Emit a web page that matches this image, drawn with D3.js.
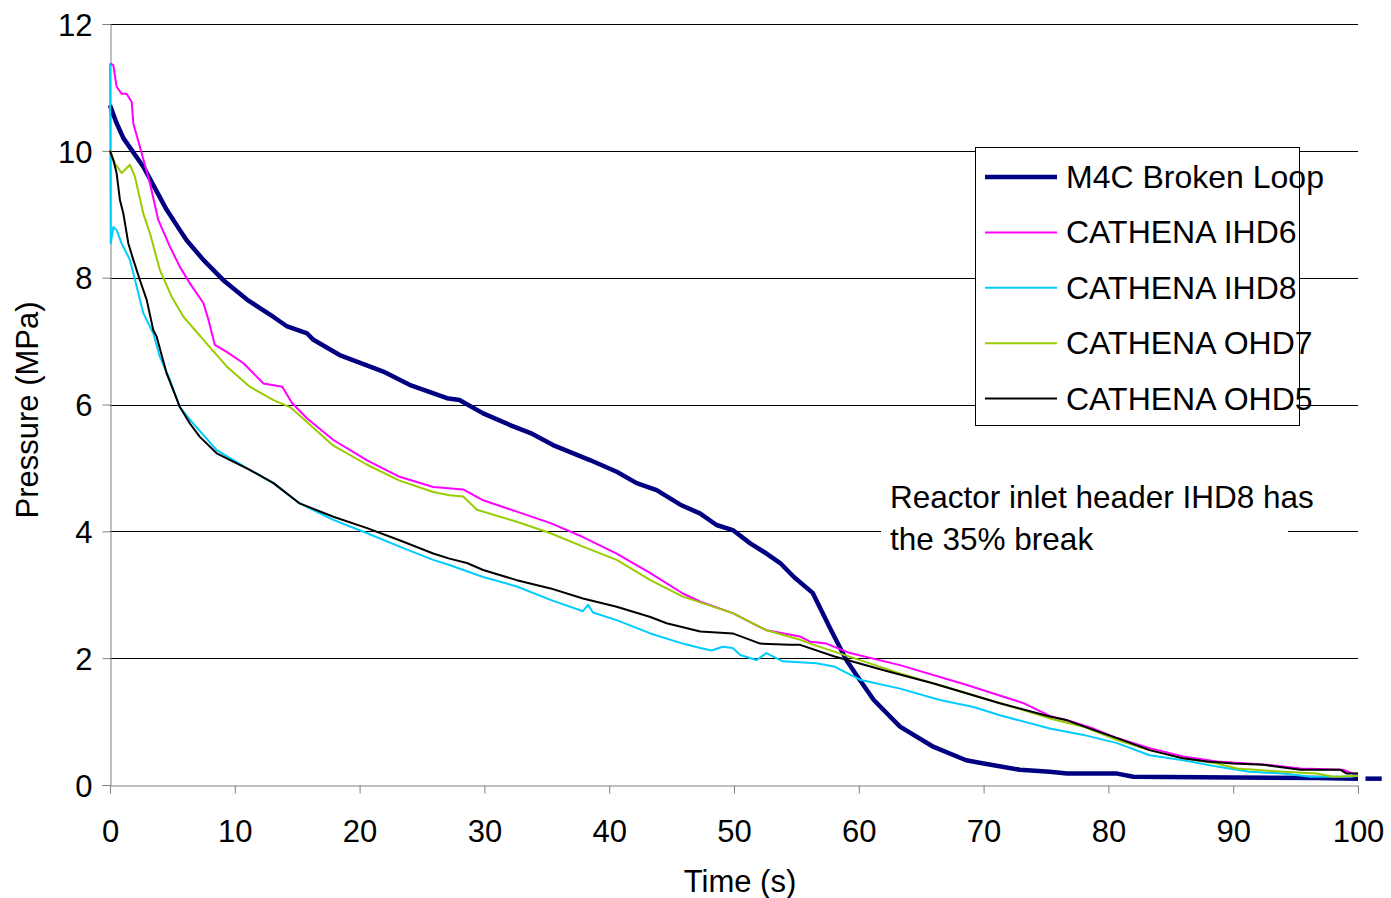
<!DOCTYPE html>
<html>
<head>
<meta charset="utf-8">
<script src="https://cdn.jsdelivr.net/npm/d3@7"></script>
<style>
    body { margin: 0; background: #fff; }
    text { font-family: "Liberation Sans", Arial, sans-serif; }
</style>
</head>
<body>
<div id="chart"></div>
<script>
// Pressure traces, [time (s), pressure (MPa)].
var m4c = [[0,10.72],[0.5,10.45],[1.07,10.2],[2.67,9.75],[4.54,9.07],[5.6,8.75],[6.14,8.59],[7.48,8.28],
    [9.08,7.96],[11.0,7.65],[13.1,7.38],[14.2,7.23],[15.8,7.12],[16.3,7.02],[18.4,6.78],[21.9,6.52],[24.0,6.31],
    [27.0,6.10],[28.0,6.07],[29.9,5.86],[32.0,5.68],[33.7,5.55],[35.5,5.36],[38.5,5.12],[40.6,4.94],[42.2,4.76],
    [43.8,4.65],[45.7,4.42],[47.3,4.28],[48.6,4.10],[49.9,4.02],[51.3,3.81],[52.6,3.65],[53.7,3.50],[54.8,3.28],
    [56.3,3.03],[57.7,2.47],[59.0,1.97],[60.0,1.68],[61.2,1.34],[63.3,0.92],[66.0,0.60],[68.6,0.39],[70,0.34],
    [72.9,0.24],[75.3,0.21],[76.7,0.18],[80.7,0.18],[82.0,0.13],[90,0.12],[96.7,0.11],[100,0.1]];
var m4cTail = [[100.6,0.1],[101.9,0.1]];

var ihd6 = [[0,11.38],[0.27,11.35],[0.53,11.01],[0.93,10.9],[1.33,10.9],[1.74,10.77],[1.87,10.43],[2.4,10.06],
    [3.2,9.49],[3.87,8.91],[4.8,8.49],[5.6,8.17],[6.4,7.91],[7.48,7.60],[7.9,7.33],[8.4,6.94],[9.35,6.83],
    [10.7,6.65],[12.3,6.33],[13.8,6.28],[14.6,6.02],[15.8,5.78],[17.9,5.44],[20.6,5.12],[23.2,4.86],[25.9,4.70],
    [28.3,4.66],[29.9,4.49],[32.6,4.31],[35.3,4.13],[37.9,3.91],[40.6,3.65],[43.3,3.34],[45.9,3.02],[47.3,2.89],
    [49.9,2.71],[52.6,2.44],[55.3,2.34],[56.1,2.26],[57.4,2.23],[59.3,2.08],[63.3,1.89],[68.6,1.58],[73.2,1.29],
    [75.3,1.09],[76.7,1.02],[78.8,0.89],[80.7,0.74],[83.3,0.58],[86.0,0.45],[88.7,0.37],[92.7,0.32],[95.4,0.26],
    [98.8,0.24],[99.6,0.18],[100,0.18]];

var ihd8 = [[0,11.38],[0.06,8.54],[0.27,8.80],[0.53,8.75],[0.93,8.54],[1.6,8.28],[1.87,8.07],[2.67,7.44],
    [3.47,7.12],[4.0,6.75],[4.8,6.39],[5.6,5.96],[6.4,5.76],[8.55,5.28],[11.2,4.97],[13.1,4.76],[15.2,4.44],
    [17.9,4.18],[20.6,3.97],[23.2,3.76],[25.9,3.55],[27.2,3.47],[29.9,3.28],[32.6,3.13],[35.3,2.92],[37.9,2.74],
    [38.3,2.84],[38.7,2.72],[40.6,2.60],[43.3,2.39],[45.9,2.23],[47.3,2.16],[48.2,2.12],[49.1,2.18],[49.9,2.16],
    [50.5,2.05],[51.8,1.97],[52.6,2.08],[53.9,1.95],[56.6,1.92],[58.0,1.87],[60.1,1.66],[63.3,1.52],[66.5,1.34],
    [69.2,1.23],[71.3,1.10],[75.3,0.89],[78.0,0.79],[80.7,0.66],[83.3,0.47],[86.0,0.39],[88.7,0.29],[91.3,0.21],
    [94.0,0.18],[96.2,0.13],[99.4,0.13],[100,0.15]];

var ohd7 = [[0,10.01],[0.4,9.80],[0.93,9.65],[1.6,9.78],[2.0,9.59],[2.67,9.01],[3.2,8.70],[4.0,8.12],[4.94,7.70],
    [5.9,7.38],[7.75,6.96],[9.35,6.60],[11.2,6.28],[13.1,6.07],[14.5,5.95],[15.8,5.72],[17.9,5.35],[20.6,5.05],
    [23.2,4.80],[25.9,4.62],[27.2,4.57],[28.3,4.55],[29.4,4.34],[32.6,4.15],[35.3,3.97],[37.9,3.76],[40.6,3.55],
    [43.3,3.23],[45.9,2.97],[49.9,2.71],[52.6,2.44],[55.3,2.29],[56.1,2.23],[59.3,2.02],[63.3,1.76],[68.6,1.45],
    [74.0,1.13],[75.3,1.05],[78.0,0.92],[80.7,0.71],[83.3,0.55],[86.0,0.42],[88.7,0.34],[90.3,0.26],[94.0,0.21],
    [96.7,0.18],[98.0,0.13],[100,0.14]];

var ohd5 = [[0,10.0],[0.27,9.85],[0.53,9.65],[0.8,9.22],[1.07,9.01],[1.47,8.54],[1.87,8.28],[2.4,7.96],[2.94,7.65],
    [3.47,7.17],[3.74,7.07],[4.54,6.49],[5.6,5.96],[6.4,5.70],[7.2,5.49],[8.55,5.23],[11.2,4.97],[13.1,4.76],
    [15.2,4.44],[17.9,4.23],[20.6,4.05],[23.2,3.86],[25.9,3.65],[27.2,3.57],[28.6,3.50],[29.9,3.39],[32.6,3.23],
    [35.3,3.10],[37.9,2.94],[40.6,2.81],[43.3,2.65],[44.6,2.55],[47.3,2.42],[49.9,2.39],[52.1,2.23],[54.5,2.21],
    [55.3,2.21],[58.0,2.03],[62.0,1.81],[66.0,1.60],[71.3,1.29],[75.3,1.08],[76.7,1.02],[78.8,0.87],[80.7,0.74],
    [83.3,0.55],[86.0,0.42],[87.9,0.37],[90.0,0.34],[92.4,0.32],[95.4,0.24],[98.6,0.24],[99.1,0.18],[100,0.18]];

var seriesNames = ["M4C Broken Loop", "CATHENA IHD6", "CATHENA IHD8", "CATHENA OHD7", "CATHENA OHD5"];
var seriesColors = ["#000080", "#ff00ff", "#00ccff", "#99cc00", "#000000"];
var seriesWidths = [4.5, 2, 2, 2, 2];
var seriesData = [m4c, ihd6, ihd8, ohd7, ohd5];

var xTicks = [0, 10, 20, 30, 40, 50, 60, 70, 80, 90, 100];
var yTicks = [0, 2, 4, 6, 8, 10, 12];
var noteLines = ["Reactor inlet header IHD8 has", "the 35% break"];

var width = 1391, height = 898;
var svg = d3.select("#chart").append("svg")
    .attr("width", width)
    .attr("height", height);

var x = d3.scaleLinear().domain([0, 100]).range([110, 1358]);
var y = d3.scaleLinear().domain([0, 12]).range([785, 24]);

// gridlines
svg.append("g").selectAll("line").data(yTicks.filter(d => d > 0)).enter().append("line")
    .attr("x1", x(0)).attr("x2", x(100))
    .attr("y1", d => Math.round(y(d)) + 0.5).attr("y2", d => Math.round(y(d)) + 0.5)
    .attr("stroke", "#000").attr("stroke-width", 1);

// axes
var yAxis = svg.append("g")
    .attr("transform", "translate(" + (x(0) + 0.5) + ",0)")
    .call(d3.axisLeft(y).tickValues(yTicks).tickSize(8).tickPadding(10).tickFormat(d3.format("d")));
var xAxis = svg.append("g")
    .attr("transform", "translate(0," + (Math.round(y(0)) + 0.5) + ")")
    .call(d3.axisBottom(x).tickValues(xTicks).tickSize(8).tickPadding(26).tickFormat(d3.format("d")));
[xAxis, yAxis].forEach(a => {
    a.select(".domain").attr("stroke", "#808080");
    a.selectAll(".tick line").attr("stroke", "#808080");
    a.selectAll("text").style("font-size", "31px").attr("fill", "#000")
        .style("font-family", "'Liberation Sans', Arial, sans-serif");
});
yAxis.selectAll("text").attr("dy", "0.36em");

// axis titles
svg.append("text").attr("x", 740).attr("y", 892).attr("text-anchor", "middle")
    .style("font-size", "31px").text("Time (s)");
svg.append("text").attr("transform", "translate(38,410) rotate(-90)").attr("text-anchor", "middle")
    .style("font-size", "31px").text("Pressure (MPa)");

// note box hides the gridline behind it
svg.append("rect").attr("x", 881).attr("y", 478).attr("width", 407).attr("height", 82).attr("fill", "#fff");
noteLines.forEach((t, i) => {
    svg.append("text").attr("x", 890).attr("y", 508 + i * 41.5)
        .style("font-size", "31.5px").text(t);
});

// series
var line = d3.line().x(d => x(d[0])).y(d => y(d[1]));
seriesData.forEach((s, i) => {
    svg.append("path").datum(s)
        .attr("d", line)
        .attr("fill", "none")
        .attr("stroke", seriesColors[i])
        .attr("stroke-width", seriesWidths[i])
        .attr("stroke-linejoin", "round");
});
svg.append("path").datum(m4cTail)
    .attr("d", line).attr("fill", "none")
    .attr("stroke", seriesColors[0]).attr("stroke-width", seriesWidths[0]);

// legend
svg.append("rect").attr("x", 975.5).attr("y", 147.5).attr("width", 324).attr("height", 278)
    .attr("fill", "#fff").attr("stroke", "#000").attr("stroke-width", 1);
seriesNames.forEach((n, i) => {
    var ly = 177 + i * 55.4;
    svg.append("line").attr("x1", 985).attr("x2", 1057).attr("y1", ly).attr("y2", ly)
        .attr("stroke", seriesColors[i]).attr("stroke-width", seriesWidths[i]);
    svg.append("text").attr("x", 1066).attr("y", ly + 11).style("font-size", "32px").text(n);
});
</script>
</body>
</html>
